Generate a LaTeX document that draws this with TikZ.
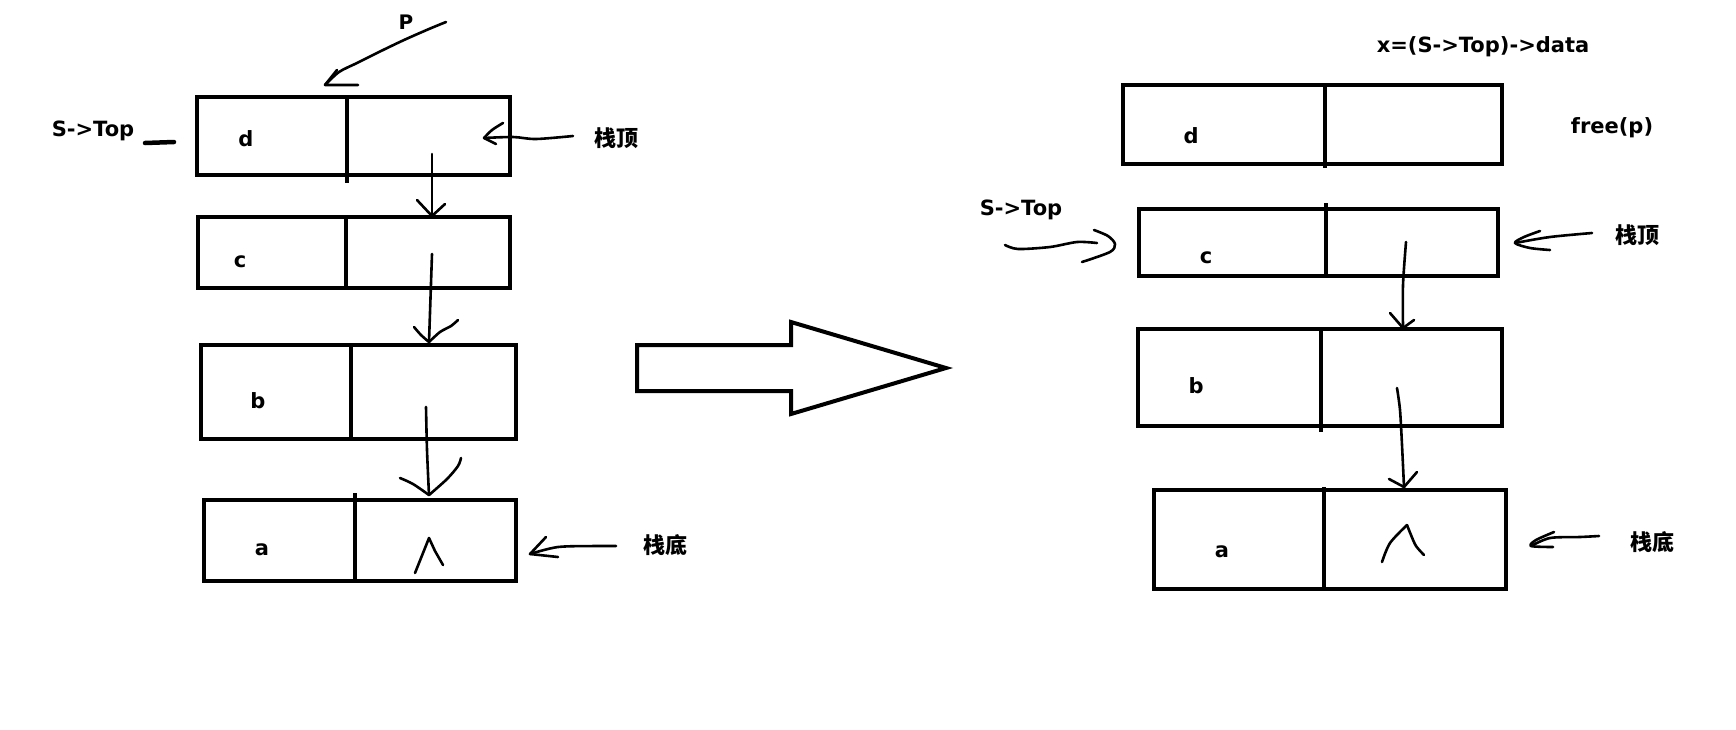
\documentclass[tikz,border=0pt]{standalone}
\usepackage{fontspec}
\setmainfont{DejaVu Sans}
\newfontfamily\cjk{Noto Sans CJK SC}
\usetikzlibrary{calc}
\tikzset{
  cellbox/.style={draw, line width=4.6pt, inner sep=0pt, outer sep=0pt, anchor=north west},
  divline/.style={line width=4.6pt},
  hand/.style={line width=2.6pt, line cap=round, line join=round},
  lbl/.style={font=\fontsize{21}{25}\selectfont\bfseries, inner sep=0pt, anchor=base},
  cjklbl/.style={font=\fontsize{22}{26}\selectfont\cjk\bfseries, inner sep=0pt, anchor=base},
  bigarrow/.style={line width=4pt, line join=miter}
}
\begin{document}
\begin{tikzpicture}[x=1pt, y=-1pt]
\useasboundingbox[fill=white] (0,0) rectangle (1736,729);

% ---------- left stack ----------
\node[cellbox, minimum width=313pt, minimum height=78pt] (Ld) at (197,97) {};
\node[cellbox, minimum width=312pt, minimum height=71pt] (Lc) at (198,217) {};
\node[cellbox, minimum width=315pt, minimum height=94pt] (Lb) at (201,345) {};
\node[cellbox, minimum width=312pt, minimum height=81pt] (La) at (204,500) {};
\draw[divline] ($(Ld.north west)+(150,0)$) -- ($(Ld.south west)+(150,8)$);
\draw[divline] ($(Lc.north west)+(148,0)$) -- ($(Lc.south west)+(148,0)$);
\draw[divline] ($(Lb.north west)+(150,0)$) -- ($(Lb.south west)+(150,0)$);
\draw[divline] ($(La.north west)+(151,-7)$) -- ($(La.south west)+(151,0)$);

\node[lbl] (Ldt) at (246,146) {d};
\node[lbl] (Lct) at (240,267) {c};
\node[lbl] (Lbt) at (258,408) {b};
\node[lbl] (Lat) at (262,555) {a};

\node[lbl, font=\fontsize{20}{24}\selectfont\bfseries] (P) at (406,29) {P};
\node[lbl] (LS) at (93,136) {S->Top};
\node[cjklbl] (Ltop) at (616,146) {栈顶};
\node[cjklbl] (Lbot) at (665,553) {栈底};

\coordinate (LSd1) at (145,143);
\coordinate (LSd2) at (174,142);
\draw[line width=4.5pt, line cap=round] (LSd1) -- (LSd2);

% pointer P
\coordinate (Pst) at (446,22);
\coordinate (Ptip) at (325,85);
\draw[hand] plot[smooth] coordinates {(Pst) (429,29) (404,40) (379,52) (357,63) (339,72) (Ptip)};
\draw[hand] (337,70) -- (Ptip) -- (358,85);

% top-of-stack arrow (left)
\coordinate (Ltst) at (573,136);
\coordinate (Lttip) at (484,138);
\draw[hand] plot[smooth] coordinates {(Ltst) (536,139) (513,137) (Lttip)};
\draw[hand] plot[smooth] coordinates {(503,123) (492,130) (Lttip)};
\draw[hand] (Lttip) -- (496,144);

% bottom arrow (left)
\coordinate (Lbst) at (616,546);
\coordinate (Lbtip) at (530,554);
\draw[hand] plot[smooth] coordinates {(Lbst) (596,546) (558,547) (Lbtip)};
\draw[hand] (546,537) -- (Lbtip) -- (558,557);

% next pointers (left)
\coordinate (Ldp) at (432,154);
\coordinate (Lt1) at (432,216);
\draw[hand] (Ldp) -- (Lt1);
\draw[hand] (417,200) -- (Lt1) -- (445,204);

\coordinate (Lcp) at (432,254);
\coordinate (Lt2) at (429,342);
\draw[hand] (Lcp) -- (Lt2);
\draw[hand] plot[smooth] coordinates {(414,327) (421,335) (Lt2)};
\draw[hand] plot[smooth] coordinates {(458,320) (451,326) (440,332) (Lt2)};

\coordinate (Lbp) at (426,407);
\coordinate (Lt3) at (429,495);
\draw[hand] plot[smooth] coordinates {(Lbp) (427,450) (Lt3)};
\draw[hand] plot[smooth] coordinates {(400,478) (413,484) (Lt3)};
\draw[hand] plot[smooth] coordinates {(461,458) (458,466) (447,479) (Lt3)};

% NULL mark (left)
\draw[hand] (415,573) -- (429,538) -- (435,551) -- (443,565);

% ---------- big arrow ----------
\draw[bigarrow] (637,345) -- (791,345) -- (791,322) -- (946,368) -- (791,414) -- (791,391) -- (637,391) -- cycle;

% ---------- right stack ----------
\node[cellbox, minimum width=379pt, minimum height=79pt] (Rd) at (1123,85) {};
\node[cellbox, minimum width=359pt, minimum height=67pt] (Rc) at (1139,209) {};
\node[cellbox, minimum width=364pt, minimum height=97pt] (Rb) at (1138,329) {};
\node[cellbox, minimum width=352pt, minimum height=99pt] (Ra) at (1154,490) {};
\draw[divline] ($(Rd.north west)+(202,0)$) -- ($(Rd.south west)+(202,4)$);
\draw[divline] ($(Rc.north west)+(187,-6)$) -- ($(Rc.south west)+(187,0)$);
\draw[divline] ($(Rb.north west)+(183,0)$) -- ($(Rb.south west)+(183,6)$);
\draw[divline] ($(Ra.north west)+(170,-3)$) -- ($(Ra.south west)+(170,0)$);

\node[lbl] (Rdt) at (1191,143) {d};
\node[lbl] (Rct) at (1206,263) {c};
\node[lbl] (Rbt) at (1196,393) {b};
\node[lbl] (Rat) at (1222,557) {a};

\node[lbl] (X) at (1483,52) {x=(S->Top)->data};
\node[lbl] (F) at (1612,133) {free(p)};
\node[lbl] (RS) at (1021,215) {S->Top};
\node[cjklbl] (Rtop) at (1637,243) {栈顶};
\node[cjklbl] (Rbot) at (1652,550) {栈底};

% S->Top wavy arrow
\coordinate (RSst) at (1005,245);
\coordinate (RStip) at (1115,244);
\draw[hand] plot[smooth] coordinates {(RSst) (1018,249) (1050,247) (1077,242) (1097,243)};
\draw[hand] plot[smooth] coordinates {(1094,230) (1108,236) (RStip) (1110,252) (1082,262)};

% top arrow (right)
\coordinate (Rtst) at (1592,233);
\coordinate (Rttip) at (1515,243);
\draw[hand] plot[smooth] coordinates {(Rtst) (1550,237) (Rttip)};
\draw[hand] plot[smooth] coordinates {(1540,231) (1524,237) (Rttip) (1530,248) (1550,250)};

% bottom arrow (right)
\coordinate (Rbst) at (1599,536);
\coordinate (Rbtip) at (1531,546);
\draw[hand] plot[smooth] coordinates {(Rbst) (1580,537) (1550,538) (Rbtip)};
\draw[hand] plot[smooth] coordinates {(1554,532) (1536,540) (Rbtip) (1553,547)};

% next pointers (right)
\coordinate (Rcp) at (1406,242);
\coordinate (Rt1) at (1403,328);
\draw[hand] plot[smooth] coordinates {(Rcp) (1403,285) (Rt1)};
\draw[hand] (1390,313) -- (Rt1) -- (1414,320);

\coordinate (Rbp) at (1397,388);
\coordinate (Rt2) at (1404,487);
\draw[hand] plot[smooth] coordinates {(Rbp) (1400,410) (1402,445) (Rt2)};
\draw[hand] (1389,479) -- (Rt2) -- (1417,472);

% NULL mark (right)
\draw[hand] plot[smooth] coordinates {(1382,562) (1390,543) (1407,525)};
\draw[hand] plot[smooth] coordinates {(1407,525) (1411,535) (1416,546) (1424,555)};
\end{tikzpicture}
\end{document}
